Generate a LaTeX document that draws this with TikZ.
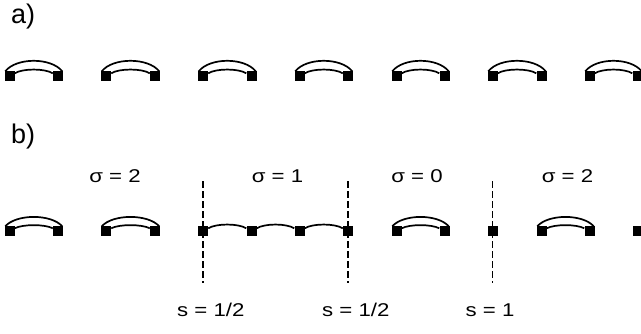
\documentclass[tikz,border=0pt]{standalone}
\usepackage{fontspec}
\setmainfont{Liberation Sans}
\begin{document}
\begin{tikzpicture}[x=1pt,y=-1pt,
  sq/.style={rectangle,fill=black,draw=none,minimum size=10pt,inner sep=0pt},
  lnk/.style={line width=1.7pt,black},
  cut/.style={line width=1.5pt,dash pattern=on 6.5pt off 3.5pt},
  lab/.style={font=\fontsize{18.5}{18.5}\selectfont,anchor=base,inner sep=0pt},
  part/.style={font=\fontsize{27}{27}\selectfont,anchor=base west,inner sep=0pt}]
\useasboundingbox (0,0) rectangle (641,334);
% grid positions
\foreach \i/\x in {1/9.5,2/58,3/106,4/155,5/203,6/251.5,7/299.5,8/348,9/396.5,10/444.5,11/492.5,12/541.5,13/589.5,14/637.5}{
  \node[sq] (a\i) at (\x,76.5) {};
  \node[sq] (b\i) at (\x,231.5) {};
}
% row a pairs
\foreach \l/\r in {1/2,3/4,5/6,7/8,9/10,11/12,13/14}{
  \draw[lnk] ([xshift=1pt]a\l.north west) .. controls +(11,-14) and +(-11,-14) .. ([xshift=-1pt]a\r.north east);
  \draw[lnk] ([yshift=-2pt]a\l.north east) .. controls +(8,-5) and +(-8,-5) .. ([yshift=-2pt]a\r.north west);
}
% row b pairs
\foreach \l/\r in {1/2,3/4,9/10,12/13}{
  \draw[lnk] ([xshift=1pt]b\l.north west) .. controls +(11,-12.5) and +(-11,-12.5) .. ([xshift=-1pt]b\r.north east);
  \draw[lnk] ([yshift=-2pt]b\l.north east) .. controls +(8,-4.2) and +(-8,-4.2) .. ([yshift=-2pt]b\r.north west);
}
% chain
\foreach \l/\r in {5/6,6/7,7/8}{
  \draw[lnk] ([yshift=-2pt]b\l.north east) .. controls +(8,-5) and +(-8,-5) .. ([yshift=-2pt]b\r.north west);
}
% cuts
\foreach \k/\i in {1/5,2/8,3/11}{
  \coordinate (t\k) at ([yshift=50pt]b\i.center);
  \coordinate (u\k) at ([yshift=-52pt]b\i.center);
  \draw[cut] (t\k) -- (u\k);
}
% labels
\node[part] (la) at (11,23.5) {a)};
\node[part] (lb) at (11,143.3) {b)};
\node[lab] (s1) at (115,182.7) {\scalebox{1.2}[1]{σ = 2}};
\node[lab] (s2) at (277.5,182.7) {\scalebox{1.2}[1]{σ = 1}};
\node[lab] (s3) at (417,182.7) {\scalebox{1.2}[1]{σ = 0}};
\node[lab] (s4) at (567.5,182.7) {\scalebox{1.2}[1]{σ = 2}};
\node[lab] (c1) at (210.8,316.5) {\scalebox{1.2}[1]{s = 1/2}};
\node[lab] (c2) at (355.8,316.5) {\scalebox{1.2}[1]{s = 1/2}};
\node[lab] (c3) at (490,316.5) {\scalebox{1.2}[1]{s = 1}};
\end{tikzpicture}
\end{document}
